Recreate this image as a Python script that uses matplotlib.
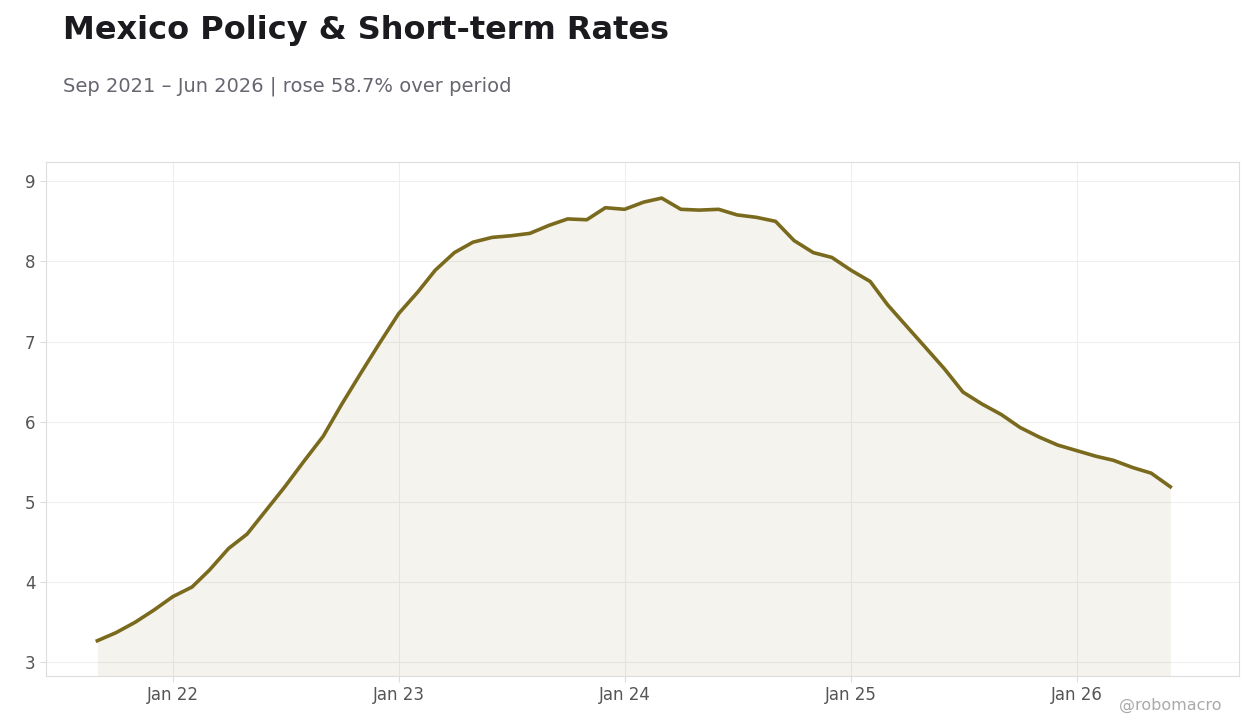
import matplotlib
matplotlib.use("Agg")
import matplotlib.pyplot as plt
import matplotlib.dates as mdates
import pandas as pd

dates = pd.date_range("2021-09-01", "2026-06-01", freq="MS")
values = [3.27,3.37,3.50,3.65,3.82,3.94,4.15,4.42,4.60,4.90,5.19,5.51,5.82,6.22,6.61,6.98,
          7.35,7.62,7.89,8.11,8.24,8.30,8.32,8.35,8.45,8.53,8.52,8.67,
          8.65,8.74,8.79,8.65,8.64,8.65,8.58,8.55,8.50,8.26,8.11,8.05,
          7.89,7.75,7.46,7.19,6.93,6.66,6.37,6.22,6.09,5.93,5.81,5.71,
          5.64,5.57,5.52,5.43,5.36,5.19]
title = "Mexico Policy & Short-term Rates"
subtitle = "Sep 2021 – Jun 2026 | rose 58.7% over period"

color = "#7a6a1e"
fig = plt.figure(figsize=(12.6, 7.28), dpi=100)
ax = fig.add_axes([46/1260, 1-676/728, (1239-46)/1260, (676-162)/728])
ax.plot(dates, values, color=color, lw=2.6, zorder=3)
ax.fill_between(dates, values, 2.83, color=color, alpha=0.08, lw=0)
ax.set_ylim(2.83, 9.24)
ax.set_xlim(pd.Timestamp("2021-06-10"), pd.Timestamp("2026-09-20"))
ax.xaxis.set_major_locator(mdates.YearLocator())
ax.xaxis.set_major_formatter(mdates.DateFormatter("Jan %y"))
ax.set_yticks([3,4,5,6,7,8,9])
ax.grid(True, color="#eeeeee", lw=0.8)
ax.set_axisbelow(True)
for s in ax.spines.values():
    s.set_color("#dddddd")
ax.tick_params(colors="#555555", labelsize=12, length=4)
ax.tick_params(axis="x", colors="#dddddd", labelcolor="#555555")
ax.tick_params(axis="y", colors="#dddddd", labelcolor="#555555")
fig.text(63/1260, 1-30/728, title, fontsize=23, fontweight="bold", color="#1a1a1f", va="center")
fig.text(63/1260, 1-86/728, subtitle, fontsize=14, color="#666670", va="center")
fig.text(1222/1260, 1-705/728, "@robomacro", fontsize=11.5, color="#aaaaaa", ha="right", va="center")
fig.savefig("out.png", dpi=100)
